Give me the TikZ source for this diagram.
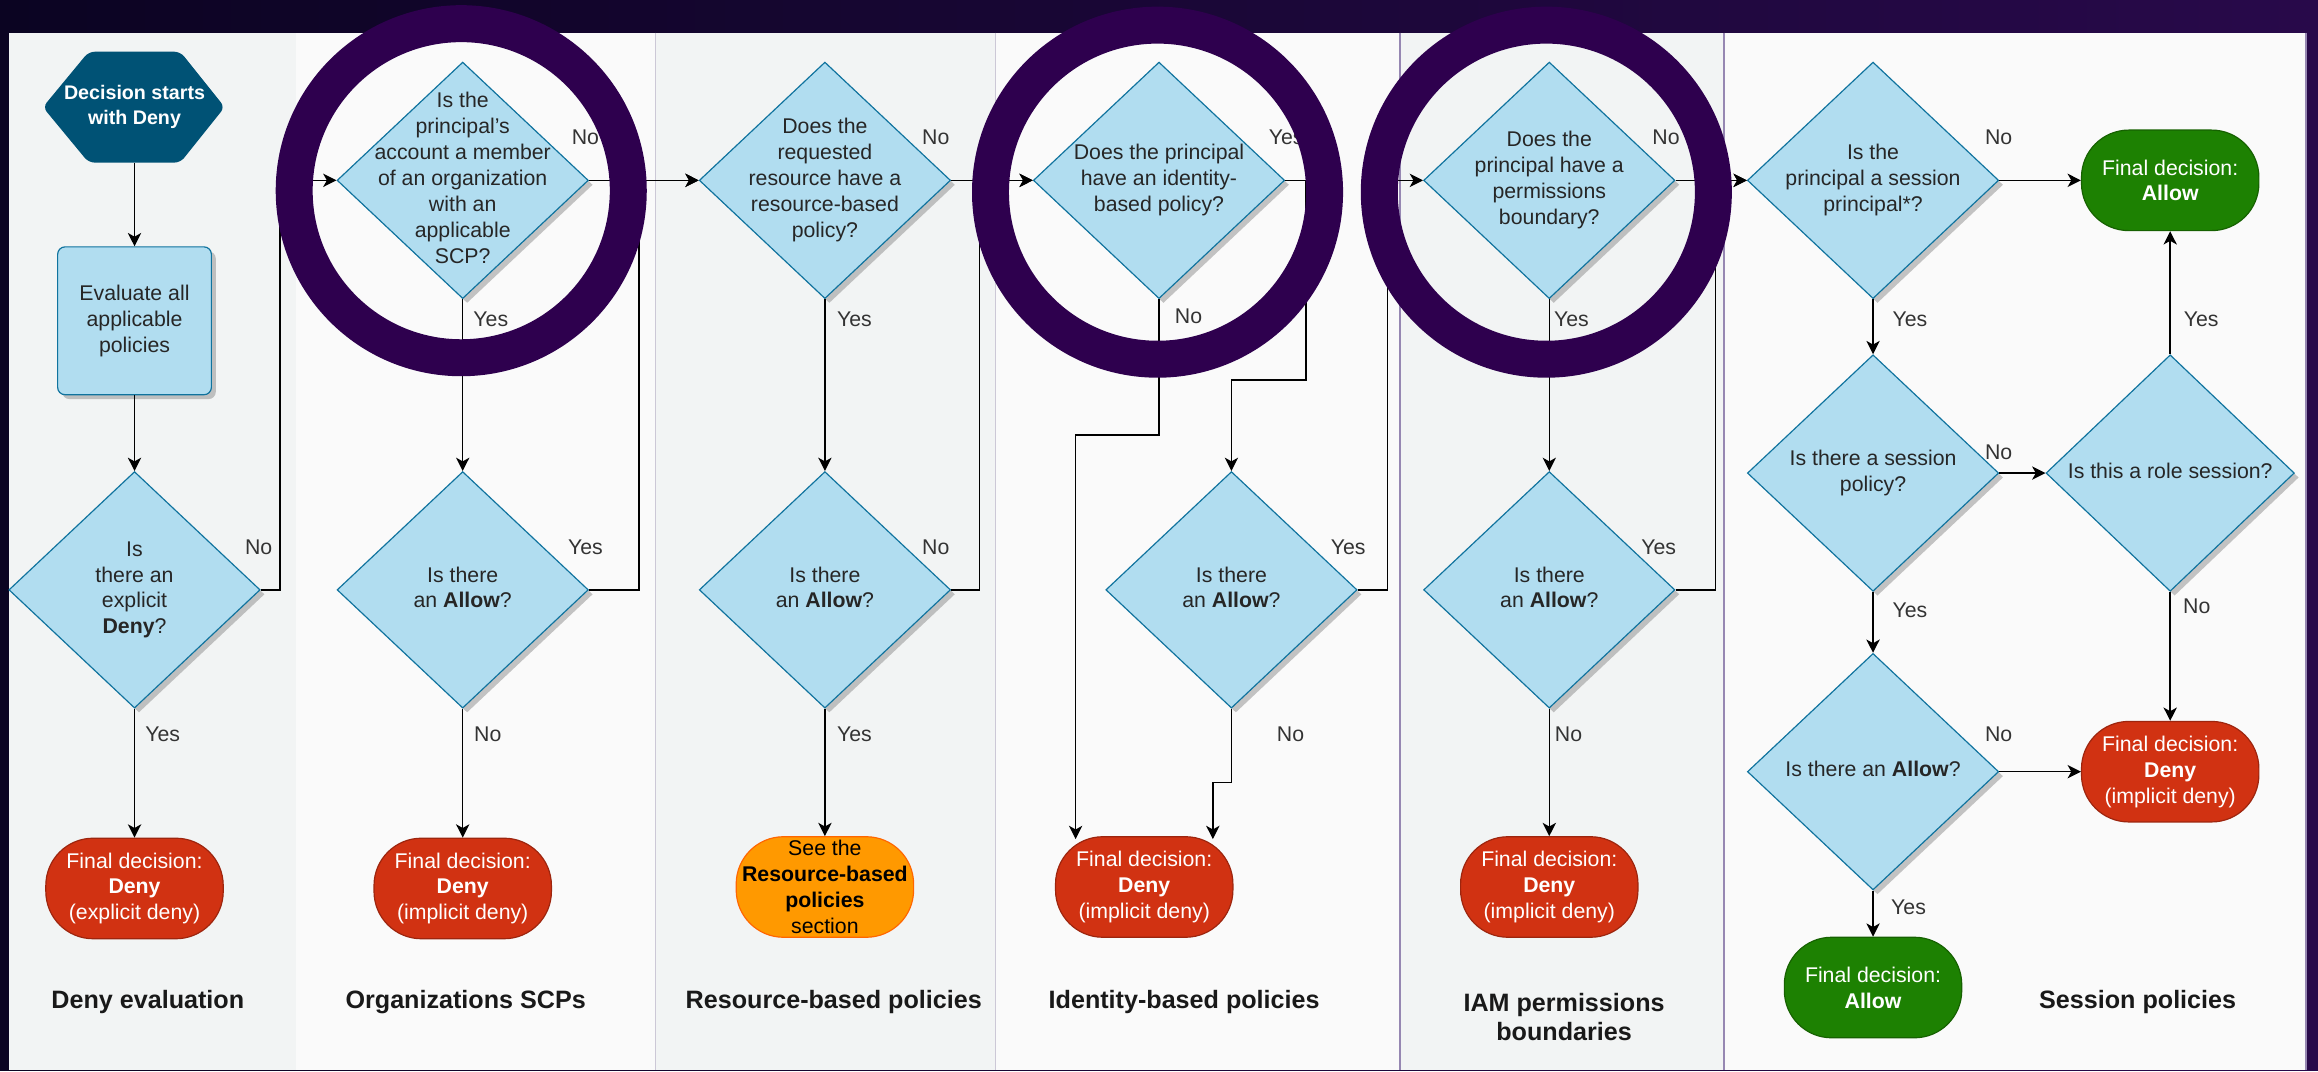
\documentclass[tikz,border=0pt]{standalone}
\usepackage{fontspec}
\setmainfont{Liberation Sans}
\usepackage{xcolor}
\usepackage{tikz}
\usetikzlibrary{shapes.geometric,arrows.meta,shadows,calc}

\definecolor{bgdark}{RGB}{11,4,34}
\definecolor{bgpurple}{RGB}{40,9,74}
\definecolor{colgray}{RGB}{242,244,244}
\definecolor{colwhite}{RGB}{250,250,250}
\definecolor{seam}{RGB}{204,200,214}
\definecolor{seampurple}{RGB}{150,135,178}
\definecolor{qfill}{RGB}{177,221,240}
\definecolor{qline}{RGB}{16,115,158}
\definecolor{hexfill}{RGB}{0,82,117}
\definecolor{denyred}{RGB}{209,50,18}
\definecolor{allowgreen}{RGB}{29,129,2}
\definecolor{seeorange}{RGB}{255,153,0}
\definecolor{ringpurple}{RGB}{46,0,78}

\newcommand{\qfont}{\fontsize{14.4}{17.5}\selectfont}
\newcommand{\colfont}{\fontsize{17}{20}\selectfont\bfseries}
\newcommand{\hexfont}{\fontsize{13.3}{17}\selectfont\bfseries}
% text of a diamond, kept from growing the shape
\newcommand{\qtxt}[1]{\raisebox{-0.25em}[0pt][0pt]{\makebox[0pt]{\begin{tabular}{@{}c@{}}#1\end{tabular}}}}

\begin{document}
\begin{tikzpicture}[x=1pt, y=-1pt,
  question/.style={diamond, draw=qline, fill=qfill, line width=0.8pt,
    minimum width=170pt, minimum height=160pt, inner sep=0pt,
    font=\qfont, text=black!85,
    drop shadow={shadow xshift=3pt, shadow yshift=-3pt, fill=black!45, opacity=0.5}},
  evalbox/.style={rectangle, rounded corners=5pt, draw=qline, fill=qfill, line width=0.8pt,
    minimum width=104pt, minimum height=100pt, align=center, font=\qfont, text=black!85,
    drop shadow={shadow xshift=3pt, shadow yshift=-3pt, fill=black!45, opacity=0.5}},
  final/.style={rectangle, rounded corners=32pt, minimum width=120pt, minimum height=68pt,
    inner sep=0pt, align=center, font=\qfont, text=white, line width=0.8pt},
  deny/.style={final, fill=denyred, draw=denyred!75!black},
  allow/.style={final, fill=allowgreen, draw=allowgreen!75!black},
  see/.style={final, fill=seeorange, draw=orange!80!red, text=black},
  yn/.style={font=\qfont, text=black!80, inner sep=0pt},
  colname/.style={font=\colfont, align=center, text=black!90},
  flow/.style={-{Stealth[length=9pt, width=9pt, inset=2.5pt]}, line width=1pt, black}]

% backdrop and lanes
\shade[left color=bgdark, right color=bgpurple] (0,0) rectangle (1568,724);
\foreach \xa/\xb/\c in {6/200/colgray, 200/443/colwhite, 443/673/colgray, 673/947/colwhite, 947/1166/colgray, 1166/1560/colwhite}
  \fill[\c] (\xa,22) rectangle (\xb,724);
\draw[seam] (443,22) -- (443,724);
\draw[seam] (673,22) -- (673,724);
\draw[seampurple, line width=1.2pt] (947,22) -- (947,724);
\draw[seampurple, line width=1.2pt] (1166,22) -- (1166,724);
\draw[seampurple, line width=1.2pt] (1560,22) -- (1560,724);

% deny evaluation
\fill[hexfill, rounded corners=4pt] (29,72.5) -- (60,35) -- (122,35) -- (152,72.5) -- (122,110) -- (60,110) -- cycle;
\node (start) [font=\hexfont, text=white, align=center, minimum width=123pt, minimum height=75pt] at (91,72.5) {Decision starts\\with Deny};
\node (evalall) [evalbox] at (91,217) {Evaluate all\\applicable\\policies};
\node (denyq) [question] at (91,399) {\qtxt{Is\\there an\\explicit\\\textbf{Deny}?}};
\node (denyfinal) [deny] at (91,601) {Final decision:\\\textbf{Deny}\\(explicit deny)};

% organizations SCPs
\node (scpq) [question] at (313,122) {\qtxt{Is the\\principal's\\account a member\\of an organization\\with an\\applicable\\SCP?}};
\node (scpallow) [question] at (313,399) {\qtxt{Is there\\an \textbf{Allow}?}};
\node (scpdeny) [deny] at (313,601) {Final decision:\\\textbf{Deny}\\(implicit deny)};

% resource-based policies
\node (rbpq) [question] at (558,122) {\qtxt{Does the\\requested\\resource have a\\resource-based\\policy?}};
\node (rbpallow) [question] at (558,399) {\qtxt{Is there\\an \textbf{Allow}?}};
\node (rbpsee) [see] at (558,600) {See the\\\textbf{Resource-based}\\\textbf{policies}\\section};

% identity-based policies
\node (idq) [question] at (784,122) {\qtxt{Does the principal\\have an identity-\\based policy?}};
\node (idallow) [question] at (833,399) {\qtxt{Is there\\an \textbf{Allow}?}};
\node (iddeny) [deny] at (774,600) {Final decision:\\\textbf{Deny}\\(implicit deny)};

% permissions boundaries
\node (pbq) [question] at (1048,122) {\qtxt{Does the\\principal have a\\permissions\\boundary?}};
\node (pballow) [question] at (1048,399) {\qtxt{Is there\\an \textbf{Allow}?}};
\node (pbdeny) [deny] at (1048,600) {Final decision:\\\textbf{Deny}\\(implicit deny)};

% session policies
\node (sesq) [question] at (1267,122) {\qtxt{Is the\\principal a session\\principal*?}};
\node (allowtop) [allow] at (1468,122) {Final decision:\\\textbf{Allow}};
\node (sespolq) [question] at (1267,320) {\qtxt{Is there a session\\policy?}};
\node (roleq) [question, minimum width=168pt] at (1468,320) {\qtxt{Is this a role session?}};
\node (sesdeny) [deny] at (1468,522) {Final decision:\\\textbf{Deny}\\(implicit deny)};
\node (sesallow) [question] at (1267,522) {\qtxt{Is there an \textbf{Allow}?}};
\node (allowbot) [allow] at (1267,668) {Final decision:\\\textbf{Allow}};

% lane titles
\node (tDeny) [colname] at (100,678) {Deny evaluation};
\node (tScp) [colname] at (315,678) {Organizations SCPs};
\node (tRbp) [colname] at (564,678) {Resource-based policies};
\node (tId) [colname] at (801,678) {Identity-based policies};
\node (tPb) [colname] at (1058,688) {IAM permissions\\boundaries};
\node (tSes) [colname] at (1446,678) {Session policies};

% connectors
\draw[flow] (start.south) -- (evalall.north);
\draw[flow] (evalall.south) -- (denyq.north);
\draw[flow] (denyq.south) -- (denyfinal.north);
\draw[flow] (denyq.east) -- ++(13,0) |- (scpq.west);
\draw[flow] (scpq.east) -- (rbpq.west);
\draw[flow] (scpq.south) -- (scpallow.north);
\draw[flow] (scpallow.east) -- ++(34,0) |- (rbpq.west);
\draw[flow] (scpallow.south) -- (scpdeny.north);
\draw[flow] (rbpq.east) -- (idq.west);
\draw[flow] (rbpq.south) -- (rbpallow.north);
\draw[flow] (rbpallow.east) -- ++(19,0) |- (idq.west);
\draw[flow] (rbpallow.south) -- (rbpsee.north);
\draw[flow] (idq.east) -- ++(14,0) -- ++(0,135) -| (idallow.north);
\draw[flow] (idq.south) -- ++(0,92) -| ($(iddeny.north west)+(14,2)$);
\draw[flow] (idallow.east) -- ++(20,0) |- (pbq.west);
\draw[flow] (idallow.south) -- ++(0,50) -| ($(iddeny.north east)+(-14,2)$);
\draw[flow] (pbq.east) -- (sesq.west);
\draw[flow] (pbq.south) -- (pballow.north);
\draw[flow] (pballow.east) -- ++(27,0) |- (sesq.west);
\draw[flow] (pballow.south) -- (pbdeny.north);
\draw[flow] (sesq.east) -- (allowtop.west);
\draw[flow] (sesq.south) -- (sespolq.north);
\draw[flow] (sespolq.east) -- (roleq.west);
\draw[flow] (roleq.north) -- (allowtop.south);
\draw[flow] (roleq.south) -- (sesdeny.north);
\draw[flow] (sespolq.south) -- (sesallow.north);
\draw[flow] (sesallow.east) -- (sesdeny.west);
\draw[flow] (sesallow.south) -- (allowbot.north);

% yes / no labels
\node (yn1) [yn] at (110,497) {Yes};
\node (yn2) [yn] at (175,370) {No};
\node (yn3) [yn] at (396,93) {No};
\node (yn4) [yn] at (332,216) {Yes};
\node (yn5) [yn] at (396,370) {Yes};
\node (yn6) [yn] at (330,497) {No};
\node (yn7) [yn] at (633,93) {No};
\node (yn8) [yn] at (578,216) {Yes};
\node (yn9) [yn] at (633,370) {No};
\node (yn10) [yn] at (578,497) {Yes};
\node (yn11) [yn] at (870,93) {Yes};
\node (yn12) [yn] at (804,214) {No};
\node (yn13) [yn] at (912,370) {Yes};
\node (yn14) [yn] at (873,497) {No};
\node (yn15) [yn] at (1127,93) {No};
\node (yn16) [yn] at (1063,216) {Yes};
\node (yn17) [yn] at (1122,370) {Yes};
\node (yn18) [yn] at (1061,497) {No};
\node (yn19) [yn] at (1352,93) {No};
\node (yn20) [yn] at (1292,216) {Yes};
\node (yn21) [yn] at (1352,306) {No};
\node (yn22) [yn] at (1489,216) {Yes};
\node (yn23) [yn] at (1486,410) {No};
\node (yn24) [yn] at (1292,413) {Yes};
\node (yn25) [yn] at (1352,497) {No};
\node (yn26) [yn] at (1291,614) {Yes};

% highlight rings
\foreach \cx/\cy in {312/129, 783/130, 1046/130}
  \draw[ringpurple, line width=25pt] (\cx,\cy) circle[radius=113];
\end{tikzpicture}
\end{document}
